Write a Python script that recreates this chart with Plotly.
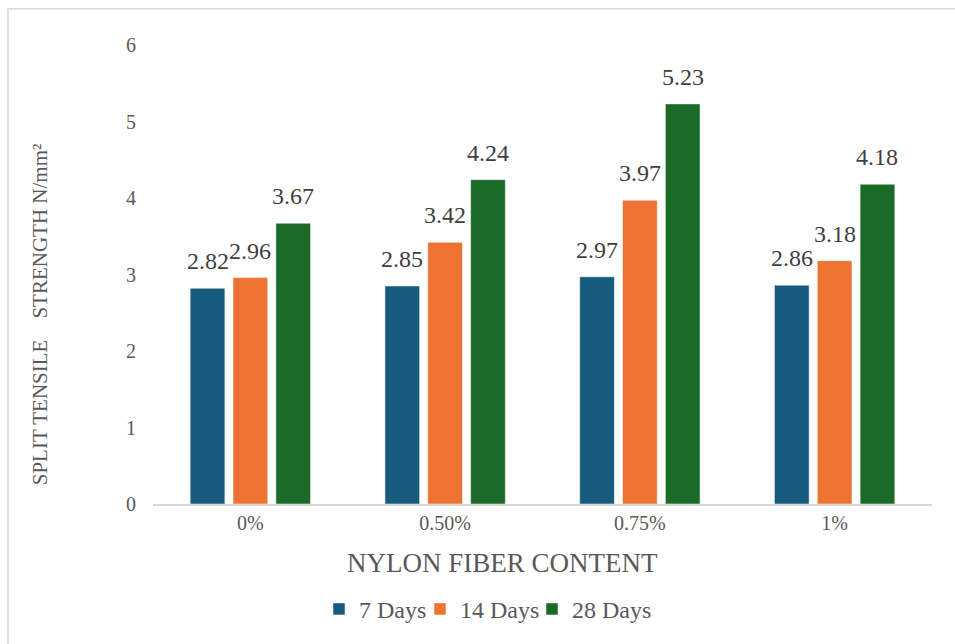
import plotly.graph_objects as go

categories = ["0%", "0.50%", "0.75%", "1%"]
days_7 = [2.82, 2.85, 2.97, 2.86]
days_14 = [2.96, 3.42, 3.97, 3.18]
days_28 = [3.67, 4.24, 5.23, 4.18]
series_names = ["7 Days", "14 Days", "28 Days"]
colors = ["#165B7D", "#EC7332", "#1B6A27"]

FONT = "Liberation Serif"
TEXT_COLOR = "#595959"
BARGAP = 0.34
BARGROUPGAP = 0.19

# plot-area geometry in pixels (used to place paper-referenced items)
W, H = 955, 644
ML, MR, MT, MB = 153, 23, 45, 137
PW, PH = W - ML - MR, H - MT - MB


def px_x(p):
    return (p - ML) / PW


def px_y(p):
    return (H - MB - p) / PH


fig = go.Figure()
series = [days_7, days_14, days_28]
legend_ids = ["legend", "legend2", "legend3"]
for name, vals, col, lg in zip(series_names, series, colors, legend_ids):
    fig.add_trace(go.Bar(
        x=categories, y=vals, name=name, legend=lg,
        marker=dict(color=col, line=dict(color="white", width=0.5)),
        cliponaxis=False,
    ))

# value labels above each bar, placed at the grouped-bar slot centres
slot = (1 - BARGAP) / len(series)
for k, vals in enumerate(series):
    for i, v in enumerate(vals):
        fig.add_annotation(
            x=i + (k - (len(series) - 1) / 2) * slot, y=v,
            xref="x", yref="y", text=f"{v:.2f}", showarrow=False,
            xanchor="center", yanchor="bottom", yshift=12,
            font=dict(family=FONT, size=24, color="#404040"),
        )

legend_style = dict(orientation="h", xanchor="left", yanchor="middle", y=px_y(613),
                    font=dict(family=FONT, size=24, color=TEXT_COLOR),
                    itemwidth=30, bgcolor="rgba(0,0,0,0)", borderwidth=0)

fig.update_layout(
    width=W, height=H,
    paper_bgcolor="white", plot_bgcolor="white",
    margin=dict(l=ML, r=MR, t=MT, b=MB),
    barmode="group", bargap=BARGAP, bargroupgap=BARGROUPGAP,
    font=dict(family=FONT, color=TEXT_COLOR),
    showlegend=True,
    legend=dict(x=px_x(319), **legend_style),
    legend2=dict(x=px_x(420), **legend_style),
    legend3=dict(x=px_x(532), **legend_style),
    xaxis=dict(showgrid=False, showline=True, linecolor="#D9D9D9", linewidth=1.5,
               ticks="", tickfont=dict(family=FONT, size=20, color=TEXT_COLOR)),
    yaxis=dict(range=[0, 6], dtick=1, showgrid=False, zeroline=False, showline=False,
               ticks="", ticklabelstandoff=16,
               tickfont=dict(family=FONT, size=20, color=TEXT_COLOR)),
)

fig.add_annotation(text="NYLON FIBER CONTENT", xref="paper", yref="paper",
                   x=px_x(502), y=px_y(566),
                   xanchor="center", yanchor="middle", showarrow=False,
                   font=dict(family=FONT, size=27, color=TEXT_COLOR))
fig.add_annotation(text="SPLIT TENSILE\u00a0\u00a0\u00a0\u00a0STRENGTH N/mm²", xref="paper", yref="paper",
                   x=px_x(40), y=px_y(316),
                   xanchor="center", yanchor="middle", showarrow=False, textangle=-90,
                   font=dict(family=FONT, size=21, color=TEXT_COLOR))

# light frame around the chart area, running off the right and bottom edges
fig.add_shape(type="rect", xref="paper", yref="paper",
              x0=px_x(8), x1=px_x(960), y0=px_y(650), y1=px_y(8.5),
              line=dict(color="#D9D9D9", width=1.5), layer="below")

fig.write_html("out.html")
